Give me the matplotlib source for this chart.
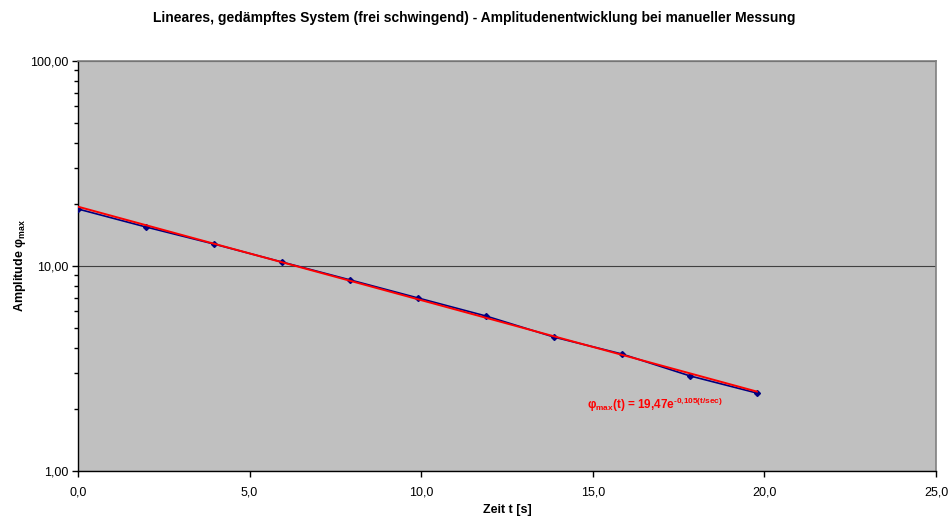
import numpy as np
import matplotlib
matplotlib.use("Agg")
import matplotlib.pyplot as plt
from matplotlib.ticker import FuncFormatter, LogLocator, MultipleLocator

plt.rcParams['font.family'] = ['Liberation Sans', 'DejaVu Sans']
plt.rcParams['mathtext.fontset'] = 'custom'
plt.rcParams['mathtext.rm'] = 'Liberation Sans:bold'
plt.rcParams['mathtext.it'] = 'Liberation Sans:bold'
plt.rcParams['mathtext.bf'] = 'Liberation Sans:bold'

zeit = [0.0, 1.98, 3.96, 5.94, 7.93, 9.91, 11.89, 13.87, 15.85, 17.83, 19.78]
amplitude = [18.97, 15.5, 12.8, 10.46, 8.55, 6.98, 5.70, 4.50, 3.72, 2.91, 2.40]

# Exponentielle Trendlinie
fit_a = 19.47
fit_b = 0.105

titel = "Lineares, gedämpftes System (frei schwingend) - Amplitudenentwicklung bei manueller Messung"

fig = plt.figure(figsize=(9.49, 5.21), dpi=100)
ax = fig.add_axes([0.0822, 0.096, 0.9041, 0.7869])
ax.set_facecolor('#C0C0C0')

t = np.array(zeit)
ax.plot(zeit, amplitude, color='#000080', lw=1.2, marker='D', ms=3, zorder=3)
ax.plot(t, fit_a * np.exp(-fit_b * t), color='#FF0000', lw=1.4, zorder=4)

ax.set_yscale('log')
ax.set_ylim(1, 100)
ax.set_xlim(0, 25)
ax.xaxis.set_major_locator(MultipleLocator(5))
ax.yaxis.set_major_locator(LogLocator(base=10))
ax.yaxis.set_minor_locator(LogLocator(base=10, subs=np.arange(2, 10)))
ax.xaxis.set_major_formatter(FuncFormatter(lambda v, p: ("%.1f" % v).replace('.', ',')))
ax.yaxis.set_major_formatter(FuncFormatter(lambda v, p: ("%.2f" % v).replace('.', ',')))
ax.yaxis.set_minor_formatter(FuncFormatter(lambda v, p: ""))

ax.grid(axis='y', which='major', color='#404040', lw=0.8)
ax.tick_params(axis='both', which='major', labelsize=9, direction='out', length=4, width=1, pad=3)
ax.tick_params(axis='y', which='minor', direction='out', length=3, width=1)
ax.tick_params(axis='x', pad=7)

for s in ['left', 'bottom']:
    ax.spines[s].set_color('black')
    ax.spines[s].set_linewidth(1)
for s in ['top', 'right']:
    ax.spines[s].set_color('#808080')
    ax.spines[s].set_linewidth(1.2)

fig.text(0.5, 0.965, titel, ha='center', va='center', fontsize=10, fontweight='bold')
ax.set_xlabel('Zeit t [s]', fontsize=9, fontweight='bold')
ax.xaxis.set_label_coords(0.5, -0.08)
ax.set_ylabel(r'Amplitude $\varphi_{\mathrm{max}}$', fontsize=9, fontweight='bold')
ax.yaxis.set_label_coords(-0.058, 0.5)

# Gleichung der Trendlinie
ax.text(587, 521 - 405, r'$\varphi_{\mathrm{max}}$(t) = 19,47e$^{\text{-0,105(t/sec)}}$',
        transform=None, color='#FF0000', fontsize=8.5, fontweight='bold', va='center')

fig.savefig('out.png', dpi=100)
